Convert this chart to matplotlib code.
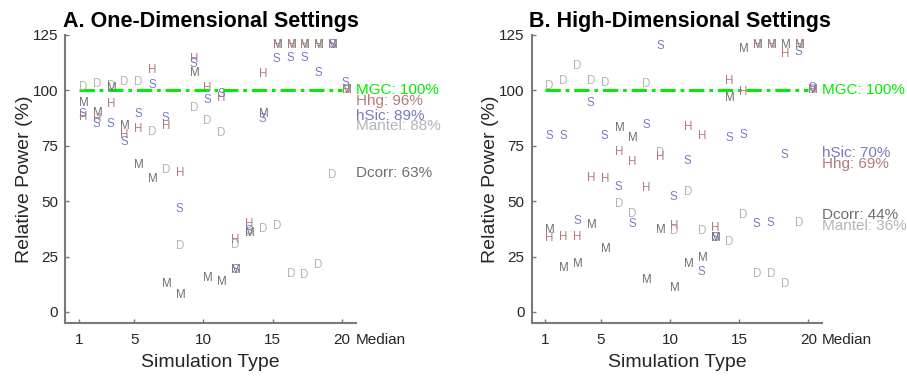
import numpy as np
import matplotlib
matplotlib.use("Agg")
import matplotlib.pyplot as plt

plt.rcParams['font.family'] = ['Liberation Sans', 'DejaVu Sans']

sim_types = list(range(1, 21))
xticks = [1, 5, 10, 15, 20, 21]
xtick_labels = ['1', '5', '10', '15', '20', 'Median']
yticks = [0, 25, 50, 75, 100, 125]

# relative power (%) per simulation type, one-dimensional settings
dcorr_1d = [101.7, 102.9, 102.0, 103.8, 103.8, 81.2, 63.9, 29.6, 92.0, 86.0,
            80.7, 30.4, 35.6, 37.4, 39.0, 17.2, 16.7, 21.4, 62.0, 100.0]
mantel_1d = [94.5, 89.7, 101.0, 84.0, 66.4, 60.0, 12.4, 7.6, 107.7, 15.1,
             13.6, 19.0, 35.6, 89.2, 120.5, 120.5, 120.5, 120.5, 120.5, 100.0]
hhg_1d = [88.0, 87.0, 93.9, 80.0, 82.7, 109.2, 83.7, 62.6, 114.0, 101.0,
          96.5, 32.6, 39.8, 107.4, 120.5, 120.5, 120.5, 120.5, 120.5, 100.0]
hsic_1d = [89.5, 85.0, 84.9, 76.9, 89.3, 102.5, 87.5, 46.5, 111.8, 95.7,
           98.4, 19.0, 36.5, 87.0, 114.0, 114.5, 114.5, 108.0, 120.5, 103.5]

# relative power (%) per simulation type, high-dimensional settings
dcorr_hd = [102.0, 104.2, 111.0, 104.2, 103.2, 48.9, 44.4, 102.9, 71.7, 36.4,
            54.0, 36.4, 33.4, 31.4, 43.9, 16.9, 17.3, 12.8, 40.2, 100.0]
mantel_hd = [36.8, 19.9, 21.8, 39.4, 28.6, 83.2, 78.4, 14.6, 36.8, 10.9,
             21.8, 24.2, 33.4, 96.5, 118.5, 120.5, 120.5, 120.5, 120.5, 100.0]
hhg_hd = [33.4, 34.0, 34.0, 60.4, 60.0, 72.1, 67.6, 55.9, 69.9, 38.6,
          83.4, 79.2, 37.9, 104.0, 99.4, 120.5, 120.5, 116.4, 120.5, 100.0]
hsic_hd = [79.2, 79.2, 40.9, 94.5, 79.2, 56.4, 39.8, 84.4, 120.0, 51.9,
           67.9, 18.2, 33.4, 78.4, 80.0, 39.8, 40.2, 70.9, 117.4, 101.0]

# median labels
median_names = ['MGC', 'Hhg', 'hSic', 'Mantel', 'Dcorr']
median_1d = [100, 96, 89, 88, 63]
median_hd = [100, 69, 70, 36, 44]
label_y_1d = [100, 95, 88.3, 83.8, 62.5]
label_y_hd = [100, 66.6, 71.8, 38.6, 43.9]

col_d = '#b4b4b4'
col_m = '#6e6e6e'
col_h = '#b47a7a'
col_s = '#7a7abf'
col_mgc = '#00ee00'
label_colors = [col_mgc, col_h, col_s, col_d, col_m]
axis_col = '#7a7a7a'
text_col = '#262626'

fig = plt.figure(figsize=(9.07, 3.78), dpi=100)
ax_a = fig.add_axes([0.0717, 0.1455, 0.3205, 0.762])
ax_b = fig.add_axes([0.586, 0.1455, 0.3205, 0.762])

panels = [
    (ax_a, 'A. One-Dimensional Settings', dcorr_1d, mantel_1d, hhg_1d, hsic_1d, median_1d, label_y_1d),
    (ax_b, 'B. High-Dimensional Settings', dcorr_hd, mantel_hd, hhg_hd, hsic_hd, median_hd, label_y_hd),
]

for ax, title, dc, mt, hh, hs, med, ly in panels:
    ax.set_xlim(0, 21)
    ax.set_ylim(-5, 125)

    # MGC is the reference, always 100
    ax.plot([1, 20], [100, 100], color=col_mgc, lw=2.2,
            linestyle=(0, (5, 1.6, 1.2, 1.6)), zorder=1)

    for series, letter, col in [(dc, 'D', col_d), (mt, 'M', col_m),
                                (hh, 'H', col_h), (hs, 'S', col_s)]:
        for x, y in zip(sim_types, series):
            ax.text(x, y, letter, color=col, fontsize=8.3, ha='left', va='center', zorder=2)

    for name, m, y, col in zip(median_names, med, ly, label_colors):
        ax.text(21, y, '{}: {}%'.format(name, m), color=col, fontsize=11,
                ha='left', va='center', clip_on=False)

    ax.set_xticks(xticks)
    ax.set_xticklabels(xtick_labels)
    ax.set_yticks(yticks)
    last = ax.xaxis.get_major_ticks()[-1]
    last.tick1line.set_visible(False)
    last.label1.set_horizontalalignment('left')

    ax.tick_params(direction='in', length=3, width=1, color=axis_col,
                   labelsize=11, labelcolor=text_col)
    ax.tick_params(axis='x', pad=7)
    ax.tick_params(axis='y', pad=5)
    for side in ['top', 'right']:
        ax.spines[side].set_visible(False)
    for side in ['left', 'bottom']:
        ax.spines[side].set_color(axis_col)
        ax.spines[side].set_linewidth(1.5)

    ax.set_xlabel('Simulation Type', fontsize=14, color=text_col, labelpad=5)
    ax.set_ylabel('Relative Power (%)', fontsize=14, color=text_col, labelpad=0)
    ax.text(-0.007, 1.028, title, transform=ax.transAxes, fontsize=15.5,
            fontweight='bold', ha='left', va='baseline', color='black')

fig.savefig('out.png', dpi=100)
